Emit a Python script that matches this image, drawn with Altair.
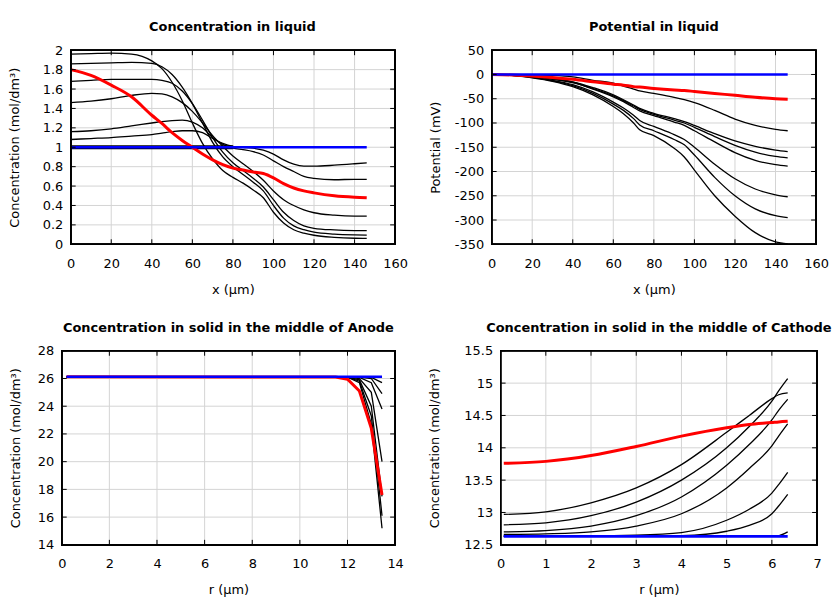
import altair as alt
import pandas as pd

FONT = "DejaVu Sans"
GRID = "#d4d4d4"
H = 195

# ---------------- Panel 1: Concentration in liquid ----------------
X_LIQ = [0, 10, 20, 30, 40, 45, 50, 55, 60, 65, 70, 75, 80, 85, 90, 95, 100, 105, 110, 115, 120, 130, 140, 146]
LIQ_A = [1.96, 1.965, 1.97, 1.96, 1.89, 1.81, 1.67, 1.48, 1.25, 1.04, 0.88, 0.76, 0.69, 0.63, 0.56, 0.48, 0.33, 0.22, 0.15, 0.115, 0.093, 0.072, 0.062, 0.06]
LIQ_B = [1.86, 1.865, 1.87, 1.875, 1.865, 1.83, 1.75, 1.62, 1.45, 1.25, 1.05, 0.90, 0.80, 0.72, 0.64, 0.55, 0.40, 0.27, 0.19, 0.15, 0.125, 0.105, 0.097, 0.095]
LIQ_C = [1.68, 1.69, 1.70, 1.70, 1.70, 1.69, 1.66, 1.58, 1.45, 1.28, 1.10, 0.95, 0.84, 0.76, 0.68, 0.59, 0.46, 0.33, 0.245, 0.19, 0.165, 0.148, 0.141, 0.14]
LIQ_D = [1.46, 1.475, 1.50, 1.535, 1.555, 1.55, 1.52, 1.46, 1.37, 1.25, 1.12, 1.01, 0.91, 0.83, 0.75, 0.66, 0.55, 0.46, 0.40, 0.355, 0.325, 0.30, 0.29, 0.29]
LIQ_E = [1.16, 1.17, 1.19, 1.22, 1.25, 1.265, 1.275, 1.28, 1.26, 1.20, 1.10, 1.03, 0.99, 0.975, 0.955, 0.92, 0.86, 0.80, 0.75, 0.70, 0.68, 0.665, 0.67, 0.67]
LIQ_F = [1.08, 1.09, 1.10, 1.115, 1.13, 1.145, 1.16, 1.17, 1.17, 1.15, 1.09, 1.04, 1.01, 1.0, 0.99, 0.97, 0.93, 0.87, 0.825, 0.805, 0.805, 0.815, 0.83, 0.84]
X_LIQ_G = [0, 20, 40, 60, 80]
LIQ_G = [1.0, 1.0, 1.0, 1.0, 1.0]
LIQ_RED = [1.80, 1.74, 1.64, 1.52, 1.33, 1.245, 1.15, 1.07, 1.00, 0.93, 0.87, 0.82, 0.785, 0.765, 0.745, 0.73, 0.685, 0.625, 0.58, 0.55, 0.53, 0.50, 0.485, 0.48]
X_LIQ_BLUE = [0, 146]
LIQ_BLUE = [1.0, 1.0]
LIQ_XTICKS = [0, 20, 40, 60, 80, 100, 120, 140, 160]
LIQ_YTICKS = [0, 0.2, 0.4, 0.6, 0.8, 1, 1.2, 1.4, 1.6, 1.8, 2]

# ---------------- Panel 2: Potential in liquid ----------------
X_POT = [0, 10, 20, 30, 40, 50, 60, 65, 70, 73, 80, 90, 95, 100, 110, 120, 130, 140, 146]
POT_1 = [0, -0.3, -1, -2, -5, -12, -18, -24, -30, -34, -39, -47, -52, -58, -74, -92, -105, -113, -116]
POT_2 = [0, -1, -4, -8, -15, -27, -42, -52, -63, -70, -80, -91, -97, -105, -122, -137, -148, -156, -159]
POT_3 = [0, -1, -4, -9, -16, -29, -44, -54, -65, -72, -82, -94, -100, -109, -128, -146, -160, -169, -172]
POT_4 = [0, -1, -5, -10, -17, -30, -46, -56, -68, -75, -85, -98, -105, -116, -139, -161, -177, -186, -189]
POT_5 = [0, -2, -6, -12, -21, -36, -57, -69, -84, -95, -107, -124, -134, -150, -185, -215, -236, -248, -252]
POT_6 = [0, -2, -6, -13, -23, -39, -61, -74, -91, -104, -116, -134, -145, -166, -212, -250, -277, -291, -295]
POT_7 = [0, -2, -7, -14, -25, -42, -66, -81, -100, -114, -126, -152, -170, -197, -250, -292, -326, -345, -349]
POT_RED = [0, -1, -3, -6, -10, -15, -20, -22, -25, -26, -29, -32, -33, -35, -39, -43, -47, -50, -51]
X_POT_BLUE = [0, 146]
POT_BLUE = [0, 0]
POT_XTICKS = [0, 20, 40, 60, 80, 100, 120, 140, 160]
POT_YTICKS = [-350, -300, -250, -200, -150, -100, -50, 0, 50]

# ---------------- Panel 3: Anode solid ----------------
R_AN = [0.2, 11.5, 12.0, 12.5, 13.0, 13.45]
AN_1 = [26.12, 26.12, 26.12, 26.12, 26.08, 25.7]
AN_2 = [26.12, 26.12, 26.12, 26.1, 26.0, 24.9]
AN_3 = [26.12, 26.12, 26.12, 26.08, 25.7, 23.8]
AN_4 = [26.12, 26.12, 26.11, 26.0, 25.0, 20.0]
AN_5 = [26.12, 26.12, 26.1, 25.9, 24.0, 17.5]
AN_6 = [26.12, 26.12, 26.1, 25.8, 23.3, 16.1]
AN_7 = [26.12, 26.12, 26.09, 25.7, 22.7, 15.2]
AN_RED = [26.12, 26.1, 25.95, 25.1, 22.4, 17.6]
AN_BLUE = [26.12, 26.12, 26.12, 26.12, 26.12, 26.12]
AN_XTICKS = [0, 2, 4, 6, 8, 10, 12, 14]
AN_YTICKS = [14, 16, 18, 20, 22, 24, 26, 28]

# ---------------- Panel 4: Cathode solid ----------------
R_CA = [0.07, 1, 2, 3, 4, 5, 5.5, 6, 6.15, 6.35]
CA_1 = [12.97, 13.01, 13.15, 13.38, 13.74, 14.24, 14.50, 14.76, 14.82, 14.85]
CA_2 = [12.81, 12.84, 12.95, 13.16, 13.50, 14.00, 14.33, 14.72, 14.88, 15.07]
CA_3 = [12.70, 12.72, 12.79, 12.95, 13.24, 13.73, 14.05, 14.43, 14.58, 14.75]
CA_4 = [12.66, 12.67, 12.70, 12.79, 12.98, 13.38, 13.68, 14.03, 14.18, 14.37]
CA_5 = [12.64, 12.64, 12.64, 12.65, 12.69, 12.88, 13.05, 13.30, 13.43, 13.62]
CA_6 = [12.63, 12.63, 12.63, 12.63, 12.64, 12.71, 12.80, 12.98, 13.10, 13.28]
CA_7 = [12.63, 12.63, 12.63, 12.63, 12.63, 12.63, 12.63, 12.63, 12.64, 12.70]
CA_RED = [13.76, 13.79, 13.88, 14.02, 14.18, 14.31, 14.36, 14.39, 14.40, 14.41]
CA_BLUE = [12.63, 12.63, 12.63, 12.63, 12.63, 12.63, 12.63, 12.63, 12.63, 12.63]
CA_XTICKS = [0, 1, 2, 3, 4, 5, 6, 7]
CA_YTICKS = [12.5, 13, 13.5, 14, 14.5, 15, 15.5]


def frame(xs, series):
    rows = []
    for name, ys in series.items():
        for x, y in zip(xs, ys):
            rows.append({"x": x, "y": y, "s": name})
    return pd.DataFrame(rows)


def panel(black, red, blue, under, title, xtitle, ytitle, xdom, xticks, ydom, yticks,
          width, interp, ytpad, x0=0, tdx=0):
    xscale = alt.Scale(domain=xdom, nice=False, zero=False)
    if x0:
        xscale = alt.Scale(domain=xdom, range=[x0, width], nice=False, zero=False)
    xaxis = alt.Axis(values=xticks, title=xtitle, labelExpr="'' + datum.value",
                     labelOverlap=False, labelFlush=False, labelPadding=13, titlePadding=13)
    yaxis_kw = dict(values=yticks, title=ytitle, labelExpr="'' + datum.value",
                    labelOverlap=False, labelFlush=False, labelPadding=8, titlePadding=ytpad)
    if x0:
        yaxis_kw["offset"] = -x0
    xenc = alt.X("x:Q", scale=xscale, axis=xaxis)
    yenc = alt.Y("y:Q", scale=alt.Scale(domain=ydom, nice=False, zero=False),
                 axis=alt.Axis(**yaxis_kw))

    xt = pd.DataFrame({"x": xticks})
    yt = pd.DataFrame({"y": yticks})
    layers = [
        # grid
        alt.Chart(xt).mark_rule(color=GRID, strokeWidth=1)
        .encode(x=xenc, y=alt.value(0), y2=alt.value(H)),
        alt.Chart(yt).mark_rule(color=GRID, strokeWidth=1)
        .encode(y=yenc, x=alt.value(x0), x2=alt.value(width)),
    ]
    if under is not None:
        layers.append(alt.Chart(under).mark_line(color="black", strokeWidth=4, interpolate=interp)
                      .encode(x=xenc, y=yenc, detail="s:N"))
    layers.append(alt.Chart(black).mark_line(color="black", strokeWidth=1.3, interpolate=interp)
                  .encode(x=xenc, y=yenc, detail="s:N"))
    layers.append(alt.Chart(red).mark_line(color="#ff0000", strokeWidth=3, interpolate=interp)
                  .encode(x=xenc, y=yenc, detail="s:N"))
    layers.append(alt.Chart(blue).mark_line(color="#0000ff", strokeWidth=2.6, interpolate=interp)
                  .encode(x=xenc, y=yenc, detail="s:N"))
    # inward tick marks on all four sides
    layers += [
        alt.Chart(xt).mark_rule(color="black", strokeWidth=1)
        .encode(x=xenc, y=alt.value(H - 5), y2=alt.value(H)),
        alt.Chart(xt).mark_rule(color="black", strokeWidth=1)
        .encode(x=xenc, y=alt.value(0), y2=alt.value(5)),
        alt.Chart(yt).mark_rule(color="black", strokeWidth=1)
        .encode(y=yenc, x=alt.value(x0), x2=alt.value(x0 + 5)),
        alt.Chart(yt).mark_rule(color="black", strokeWidth=1)
        .encode(y=yenc, x=alt.value(width - 5), x2=alt.value(width)),
    ]
    # plot frame
    layers.append(alt.Chart(yt).mark_rect(fillOpacity=0, stroke="black", strokeWidth=1.2)
                  .encode(x=alt.value(x0), x2=alt.value(width), y=alt.value(0), y2=alt.value(H)))
    return alt.layer(*layers).properties(
        width=width, height=H,
        title=alt.TitleParams(title, frame="group", anchor="middle", offset=10, dx=tdx,
                              font=FONT, fontSize=13, fontWeight="bold"))


p1 = panel(
    frame(X_LIQ, {"A": LIQ_A, "B": LIQ_B, "C": LIQ_C, "D": LIQ_D, "E": LIQ_E, "F": LIQ_F}),
    frame(X_LIQ, {"red": LIQ_RED}),
    frame(X_LIQ_BLUE, {"blue": LIQ_BLUE}),
    frame(X_LIQ_G, {"G": LIQ_G}),
    "Concentration in liquid", "x (μm)", "Concentration (mol/dm³)",
    [0, 160], LIQ_XTICKS, [0, 2], LIQ_YTICKS,
    335, "monotone", 21, x0=9, tdx=4)

p2 = panel(
    frame(X_POT, {"1": POT_1, "2": POT_2, "3": POT_3, "4": POT_4, "5": POT_5, "6": POT_6, "7": POT_7}),
    frame(X_POT, {"red": POT_RED}),
    frame(X_POT_BLUE, {"blue": POT_BLUE}),
    None,
    "Potential in liquid", "x (μm)", "Potential (mV)",
    [0, 160], POT_XTICKS, [-350, 50], POT_YTICKS,
    326, "monotone", 12)

p3 = panel(
    frame(R_AN, {"1": AN_1, "2": AN_2, "3": AN_3, "4": AN_4, "5": AN_5, "6": AN_6, "7": AN_7}),
    frame(R_AN, {"red": AN_RED}),
    frame(R_AN, {"blue": AN_BLUE}),
    None,
    "Concentration in solid in the middle of Anode", "r (μm)", "Concentration (mol/dm³)",
    [0, 14], AN_XTICKS, [14, 28], AN_YTICKS,
    335, "linear", 15)

p4 = panel(
    frame(R_CA, {"1": CA_1, "2": CA_2, "3": CA_3, "4": CA_4, "5": CA_5, "6": CA_6, "7": CA_7}),
    frame(R_CA, {"red": CA_RED}),
    frame(R_CA, {"blue": CA_BLUE}),
    None,
    "Concentration in solid in the middle of Cathode", "r (μm)", "Concentration (mol/dm³)",
    [0, 7], CA_XTICKS, [12.5, 15.5], CA_YTICKS,
    318, "monotone", 22)

row1 = alt.hconcat(p1, p2, spacing=21, bounds="full")
row2 = alt.hconcat(p3, p4, spacing=25, bounds="full")

chart = alt.concat(row1, row2, columns=1, spacing=26, bounds="full", align="none").properties(
    padding={"left": 0, "top": 12, "right": 0, "bottom": 0}
).configure_axis(
    labelFont=FONT, labelFontSize=13, labelColor="black",
    titleFont=FONT, titleFontSize=13, titleFontWeight="normal", titleColor="black",
    grid=False, domain=False, ticks=False, tickSize=0,
).configure_view(
    stroke=None
)

chart.save("out.html", embed_options={"renderer": "svg", "actions": False})
